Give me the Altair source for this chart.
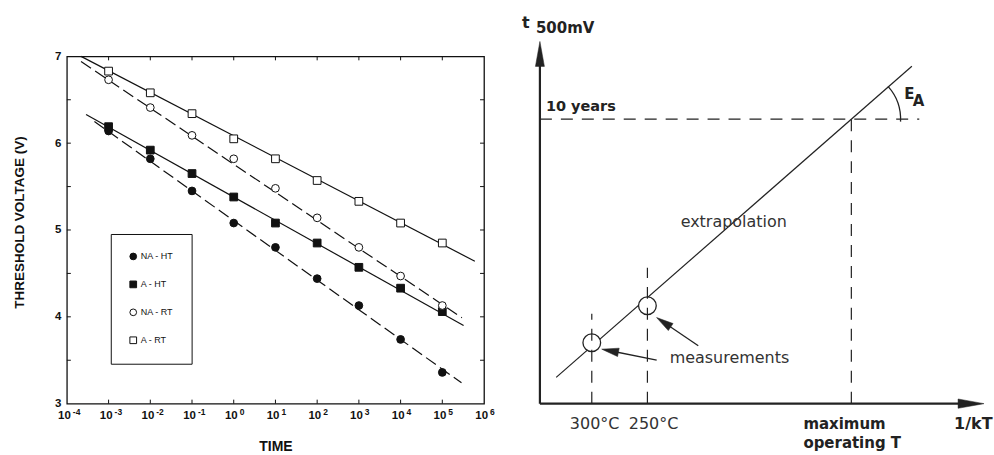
import altair as alt
import pandas as pd

# ---------------- left panel data ----------------
decades = [1e-3, 1e-2, 1e-1, 1e0, 1e1, 1e2, 1e3, 1e4, 1e5]
na_ht = [6.14, 5.82, 5.45, 5.08, 4.80, 4.44, 4.13, 3.74, 3.36]
a_ht = [6.19, 5.92, 5.65, 5.38, 5.08, 4.85, 4.57, 4.33, 4.06]
na_rt = [6.73, 6.41, 6.09, 5.82, 5.48, 5.14, 4.80, 4.47, 4.13]
a_rt = [6.83, 6.58, 6.34, 6.05, 5.82, 5.57, 5.33, 5.08, 4.85]

series_names = ["NA - HT", "A - HT", "NA - RT", "A - RT"]
series_shapes = ["circle", "square", "circle", "square"]
series_fills = ["#111111", "#111111", "#ffffff", "#ffffff"]
series_strokes = ["#111111", "#111111", "#111111", "#111111"]
dashed_series = ["NA - HT", "NA - RT"]
solid_series = ["A - HT", "A - RT"]

fit_t_start = [10 ** -3.34, 10 ** -3.54, 10 ** -3.66, 10 ** -3.66]
fit_v_start = [6.25, 6.33, 6.94, 7.00]
fit_t_end = [10 ** 5.46, 10 ** 5.51, 10 ** 5.47, 10 ** 5.78]
fit_v_end = [3.24, 3.90, 3.99, 4.64]

x_label_values = [1e-4, 1e-3, 1e-2, 1e-1, 1e0, 1e1, 1e2, 1e3, 1e4, 1e5, 1e6]
x_label_exponents = ["-4", "-3", "-2", "-1", "0", "1", "2", "3", "4", "5", "6"]
y_label_values = [3, 4, 5, 6, 7]
inner_y_ticks = [3.5, 4.0, 4.5, 5.0, 5.5, 6.0, 6.5]

# ---------------- right panel (schematic) data, arbitrary units ----------------
axis_x0 = [0.0, 0.0]
axis_y0 = [0.0, 0.0]
axis_x1 = [0.0, 97.74]
axis_y1 = [100.7, 0.0]

fit_x = [3.69, 84.32]
fit_y = [7.56, 97.13]

guide_x0 = [0.0, 70.6, 11.76, 24.37]
guide_y0 = [81.9, 0.0, 0.0, 0.0]
guide_x1 = [86.0, 70.6, 11.76, 24.37]
guide_y1 = [81.9, 81.9, 25.9, 39.1]

meas_x = [11.76, 24.37]
meas_y = [17.53, 28.2]

arrow_tail_x = [35.90, 26.47]
arrow_tail_y = [16.67, 12.56]
arrow_head_x = [28.05, 15.90]
arrow_head_y = [23.42, 15.23]
arrow_angle = [304, 281]

axis_head_x = [0.0, 97.74]
axis_head_y = [100.7, 0.0]
axis_head_angle = [0, 90]
axis_head_size = [625, 676]

ea_center_x = [70.6]
ea_center_y = [81.9]

bold_texts = ["t", "500mV", "10 years", "E", "A", "maximum", "operating  T", "1/kT"]
bold_x = [-4.07, -0.90, 1.36, 82.58, 84.55, 59.73, 59.73, 93.9]
bold_y = [108.05, 106.6, 84.2, 87.64, 85.63, -7.18, -12.64, -7.18]
bold_size = [16, 15, 14.5, 15, 15, 15, 15, 16]

reg_texts = ["extrapolation", "measurements", "300°C", "250°C"]
reg_x = [31.9, 29.41, 6.79, 20.14]
reg_y = [50.86, 11.78, -7.18, -7.18]

# ================= LEFT PANEL =================
W1, H1 = 418, 348
points_df = pd.DataFrame(
    [
        {"series": s, "t": t, "v": v}
        for s, vals in zip(series_names, [na_ht, a_ht, na_rt, a_rt])
        for t, v in zip(decades, vals)
    ]
)
fits_df = pd.DataFrame(
    [{"series": s, "t": t0, "v": v0} for s, t0, v0 in zip(series_names, fit_t_start, fit_v_start)]
    + [{"series": s, "t": t1, "v": v1} for s, t1, v1 in zip(series_names, fit_t_end, fit_v_end)]
)
xlab_df = pd.DataFrame({"t": x_label_values, "exp": x_label_exponents})
xtick_df = pd.DataFrame({"t": decades})
ytick_df = pd.DataFrame({"v": inner_y_ticks})

xscale = alt.Scale(type="log", domain=[1e-4, 1e6])
yscale = alt.Scale(domain=[3, 7], nice=False, zero=False)

LFONT = "Liberation Sans"
INK = "#111111"

xaxis = alt.Axis(
    labels=False, ticks=False, tickSize=0, domain=False, grid=False,
    title="TIME", titleFont=LFONT, titleFontSize=14, titleFontWeight="bold",
    titleColor=INK, titlePadding=36,
)
yaxis = alt.Axis(
    values=y_label_values, format="d", ticks=False, tickSize=0, domain=False, grid=False,
    labelFont=LFONT, labelFontSize=11.5, labelFontWeight="bold", labelColor=INK,
    labelPadding=6,
    title="THRESHOLD VOLTAGE (V)", titleFont=LFONT, titleFontSize=13.5,
    titleFontWeight="bold", titleColor=INK, titlePadding=28, titleY=166,
)

solid_lines = alt.Chart(fits_df).transform_filter(
    alt.FieldOneOfPredicate(field="series", oneOf=solid_series)
).mark_line(color=INK, strokeWidth=1.2).encode(
    x=alt.X("t:Q", scale=xscale, axis=xaxis),
    y=alt.Y("v:Q", scale=yscale, axis=yaxis),
    detail="series:N",
)
dashed_lines = alt.Chart(fits_df).transform_filter(
    alt.FieldOneOfPredicate(field="series", oneOf=dashed_series)
).mark_line(color=INK, strokeWidth=1.2, strokeDash=[12, 5]).encode(
    x="t:Q", y="v:Q", detail="series:N",
)

legend_def = dict(
    title=None, orient="none", legendX=44, legendY=178,
    strokeColor=INK, fillColor="white", padding=18, rowPadding=17,
    symbolSize=45, symbolStrokeWidth=1, symbolStrokeColor=INK,
    labelFont=LFONT, labelFontSize=9, labelColor=INK, labelOffset=3,
    labelExpr="datum.label + '      '",
)

pts = alt.Chart(points_df).mark_point(
    strokeWidth=1, opacity=1, size=60
).encode(
    x="t:Q",
    y="v:Q",
    shape=alt.Shape("series:N", scale=alt.Scale(domain=series_names, range=series_shapes),
                    legend=alt.Legend(**legend_def)),
    fill=alt.Fill("series:N", scale=alt.Scale(domain=series_names, range=series_fills),
                  legend=alt.Legend(**legend_def)),
    stroke=alt.Stroke("series:N", scale=alt.Scale(domain=series_names, range=series_strokes),
                      legend=alt.Legend(**legend_def)),
)

xt_bottom = alt.Chart(xtick_df).mark_rule(color=INK, strokeWidth=1).encode(
    x="t:Q", y=alt.value(H1), y2=alt.value(H1 - 4)
)
xt_top = alt.Chart(xtick_df).mark_rule(color=INK, strokeWidth=1).encode(
    x="t:Q", y=alt.value(0), y2=alt.value(4)
)
yt_left = alt.Chart(ytick_df).mark_rule(color=INK, strokeWidth=1).encode(
    y="v:Q", x=alt.value(0), x2=alt.value(4)
)
yt_right = alt.Chart(ytick_df).mark_rule(color=INK, strokeWidth=1).encode(
    y="v:Q", x=alt.value(W1), x2=alt.value(W1 - 4)
)

lab_base = alt.Chart(xlab_df).mark_text(
    align="right", baseline="alphabetic", dx=4, font=LFONT, fontSize=11.5,
    fontWeight="bold", color=INK,
).encode(x="t:Q", y=alt.value(H1 + 15), text=alt.value("10"))
lab_exp = alt.Chart(xlab_df).mark_text(
    align="left", baseline="alphabetic", dx=6, font=LFONT, fontSize=8.5,
    fontWeight="bold", color=INK,
).encode(x="t:Q", y=alt.value(H1 + 11), text="exp:N")

left = alt.layer(
    solid_lines, dashed_lines, pts, xt_bottom, xt_top, yt_left, yt_right, lab_base, lab_exp
).properties(
    width=W1, height=H1, view=alt.ViewBackground(stroke=INK, strokeWidth=1.3, fill="white")
)

# ================= RIGHT PANEL =================
W2, H2 = 442, 348
rx = alt.Scale(domain=[0, 100], nice=False, zero=False)
ry = alt.Scale(domain=[0, 100], nice=False, zero=False)
DARK = "#222222"
RFONT = "DejaVu Sans"

axes_df = pd.DataFrame({"x": axis_x0, "y": axis_y0, "x2": axis_x1, "y2": axis_y1})
fit_df = pd.DataFrame({"x": [fit_x[0]], "y": [fit_y[0]], "x2": [fit_x[1]], "y2": [fit_y[1]]})
guide_df = pd.DataFrame({"x": guide_x0, "y": guide_y0, "x2": guide_x1, "y2": guide_y1})
meas_df = pd.DataFrame({"x": meas_x, "y": meas_y})
arrow_df = pd.DataFrame({"x": arrow_tail_x, "y": arrow_tail_y, "x2": arrow_head_x, "y2": arrow_head_y})
head_df = pd.DataFrame({"x": arrow_head_x, "y": arrow_head_y, "angle": arrow_angle})
axhead_df = pd.DataFrame({"x": axis_head_x, "y": axis_head_y, "angle": axis_head_angle,
                          "size": axis_head_size})
ea_df = pd.DataFrame({"x": ea_center_x, "y": ea_center_y})
bold_df = pd.DataFrame({"text": bold_texts, "x": bold_x, "y": bold_y, "size": bold_size})
reg_df = pd.DataFrame({"text": reg_texts, "x": reg_x, "y": reg_y})

X = alt.X("x:Q", scale=rx, axis=None)
Y = alt.Y("y:Q", scale=ry, axis=None)

fit_layer = alt.Chart(fit_df).mark_rule(color=DARK, strokeWidth=1.2).encode(
    x=X, y=Y, x2="x2:Q", y2="y2:Q"
)
circ_layer = alt.Chart(meas_df).mark_point(
    shape="circle", size=314, fill="white", stroke=DARK, strokeWidth=1.3, opacity=1, fillOpacity=1
).encode(x="x:Q", y="y:Q")
guide_layer = alt.Chart(guide_df).mark_rule(color=DARK, strokeWidth=1.2, strokeDash=[12, 9]).encode(
    x="x:Q", y="y:Q", x2="x2:Q", y2="y2:Q"
)
axes_layer = alt.Chart(axes_df).mark_rule(color=DARK, strokeWidth=2.2).encode(
    x="x:Q", y="y:Q", x2="x2:Q", y2="y2:Q"
)
axhead_layer = alt.Chart(axhead_df).mark_point(
    shape="M0,-1L0.36,1L-0.36,1Z", filled=True, fill=DARK, stroke=DARK, strokeWidth=0.5, opacity=1
).encode(
    x="x:Q", y="y:Q",
    angle=alt.Angle("angle:Q", scale=None),
    size=alt.Size("size:Q", scale=None),
)
arrow_layer = alt.Chart(arrow_df).mark_rule(color=DARK, strokeWidth=1.3).encode(
    x="x:Q", y="y:Q", x2="x2:Q", y2="y2:Q"
)
head_layer = alt.Chart(head_df).mark_point(
    shape="M0,-1L0.5,1L-0.5,1Z", filled=True, fill=DARK, stroke=DARK, strokeWidth=0.5,
    opacity=1, size=289,
).encode(x="x:Q", y="y:Q", angle=alt.Angle("angle:Q", scale=None))
arc_layer = alt.Chart(ea_df).mark_arc(
    radius=50, radius2=48.7, theta=0.84, theta2=1.62, fill=DARK
).encode(x="x:Q", y="y:Q")
bold_layer = alt.Chart(bold_df).mark_text(
    align="left", baseline="alphabetic", font=RFONT, fontWeight="bold", color=DARK
).encode(x="x:Q", y="y:Q", text="text:N", size=alt.Size("size:Q", scale=None))
reg_layer = alt.Chart(reg_df).mark_text(
    align="left", baseline="alphabetic", font=RFONT, fontSize=16, color="#333333"
).encode(x="x:Q", y="y:Q", text="text:N")

right = alt.layer(
    fit_layer,
    circ_layer, guide_layer, axes_layer, axhead_layer, arrow_layer, head_layer,
    arc_layer, bold_layer, reg_layer,
).properties(width=W2, height=H2, view=alt.ViewBackground(stroke="transparent"))

chart = alt.hconcat(left, right, spacing=56).properties(
    bounds="flush",
    padding={"left": 11, "top": 14, "right": 0, "bottom": 2},
    background="white",
)

chart.save("out.html", embed_options={"renderer": "svg", "actions": False})
